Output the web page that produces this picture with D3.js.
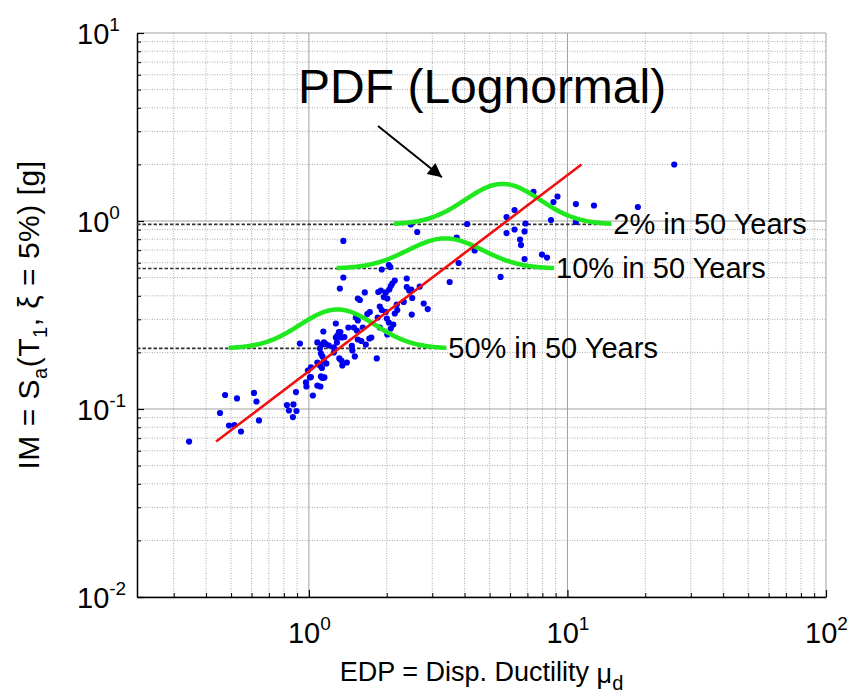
<!DOCTYPE html>
<html><head><meta charset="utf-8">
<script src="https://cdn.jsdelivr.net/npm/d3@7"></script>
<style>
body{margin:0;background:#fff}
text{font-family:"Liberation Sans",Arial,Helvetica,sans-serif;fill:#000}
</style>
</head><body>
<svg id="chart" width="851" height="698"></svg>
<script>
// ---------- data ----------
const pointsLow = [[0.344,0.0671],[0.453,0.0952],[0.474,0.1187],[0.491,0.0817],[0.515,0.0822],[0.527,0.1138],[0.546,0.0759],[0.613,0.1217],[0.627,0.1096],[0.641,0.0869],[0.822,0.105],[0.837,0.0982],[0.871,0.1057],[0.895,0.0976],[0.867,0.0906],[0.891,0.1231],[0.974,0.1384],[0.978,0.1317],[1.009,0.1472],[1.036,0.118],[1.078,0.1333],[1.108,0.1317],[1.123,0.1472],[1.148,0.1472],[0.991,0.1602]];
const pointsMid = [[0.923,0.223],[1.018,0.1663],[1.078,0.226],[1.103,0.21],[1.123,0.2203],[1.078,0.1767],[1.103,0.1704],[1.123,0.1652],[1.143,0.179],[1.168,0.1746],[1.113,0.1973],[1.128,0.1903],[1.137,0.2584],[1.143,0.226],[1.163,0.2217],[1.194,0.2177],[1.249,0.2125],[1.249,0.1998],[1.283,0.226],[1.271,0.2401],[1.288,0.246],[1.306,0.2568],[1.271,0.285],[1.323,0.2568],[1.323,0.2415],[1.341,0.2401],[1.311,0.1857],[1.335,0.1811],[1.347,0.1704],[1.402,0.1767],[1.371,0.2415],[1.421,0.2714],[1.359,0.783],[1.359,0.5005],[1.317,0.4375],[1.466,0.2164],[1.472,0.2048],[1.505,0.1903],[1.492,0.2714],[1.532,0.2616],[1.546,0.2343],[1.595,0.23],[1.66,0.2203],[1.713,0.2371],[1.743,0.2401],[1.519,0.3067],[1.546,0.2956],[1.616,0.2714],[1.682,0.32],[1.72,0.328],[1.546,0.387],[1.574,0.38],[1.645,0.417],[1.83,0.1857],[1.846,0.3067],[1.88,0.351],[1.913,0.336],[1.88,0.2714],[1.983,0.328],[2.001,0.303],[2.037,0.2885],[2.073,0.268],[2.01,0.249],[2.148,0.322],[2.197,0.336],[1.855,0.419],[1.897,0.427],[1.983,0.417],[2.046,0.432],[2.073,0.451],[1.948,0.394],[2.01,0.387],[1.913,0.552],[2.037,0.583],[2.064,0.569],[2.101,0.465],[2.148,0.4826],[2.187,0.3597],[2.327,0.371],[2.39,0.4945],[2.39,0.4457],[2.443,0.427],[2.488,0.432],[2.51,0.3894],[2.683,0.448],[2.78,0.364],[2.881,0.34],[1.018,0.148],[1.113,0.149],[1.133,0.1462],[2.499,0.318],[2.12,0.2814]];
const pointsHigh = [[2.477,0.958],[2.624,0.874],[3.503,0.4737],[3.728,0.817],[3.795,0.598],[4.092,0.964],[4.375,0.697],[5.512,0.504],[5.813,1.05],[6.243,1.144],[5.813,0.863],[6.243,0.901],[6.883,0.97],[6.823,0.88],[6.555,0.797],[6.614,0.745],[6.823,0.628],[7.97,0.663],[8.334,0.639],[7.39,1.427],[8.83,1.262],[9.15,1.35],[8.636,1.012],[10.78,1.231],[12.66,1.209],[10.78,0.988],[18.72,1.187],[25.88,1.998]];

// regression IM = a * EDP^b
const fitA = 0.159, fitB = 1.043;
const fitEDP = [0.4375, 11.33];

// hazard levels and lognormal PDFs
const hazardLabels = ["2% in 50 Years", "10% in 50 Years", "50% in 50 Years"];
const hazardIM = [0.96, 0.559, 0.21];
const pdfMedian = [5.61, 3.37, 1.29];
const pdfPeakDecades = [0.215, 0.16, 0.207];
const pdfBeta = 0.334;
const pdfSpanSigma = 2.9;

// annotation (data coords)
const pdfTitle = "PDF (Lognormal)";
const titlePos = [0.908, 4.24];
const arrowFrom = [1.85, 3.2];
const arrowTo = [3.27, 1.71];

const xMajor = [1, 10, 100];
const yMajor = [0.01, 0.1, 1, 10];
const xMinor = [0.3,0.4,0.5,0.6,0.7,0.8,0.9,2,3,4,5,6,7,8,9,20,30,40,50,60,70,80,90];
const yMinor = [0.02,0.03,0.04,0.05,0.06,0.07,0.08,0.09,0.2,0.3,0.4,0.5,0.6,0.7,0.8,0.9,2,3,4,5,6,7,8,9];

// ---------- layout ----------
const L = 137, R = 826, T = 33, B = 597;
const svg = d3.select("#chart");
const x = d3.scaleLog().domain([0.2163, 100]).range([L, R]);
const y = d3.scaleLog().domain([0.01, 10]).range([B, T]);

// grid
const grid = svg.append("g");
grid.selectAll(".vmin").data(xMinor).join("line")
  .attr("x1", d => x(d)).attr("x2", d => x(d)).attr("y1", T).attr("y2", B)
  .attr("stroke", "#ababab").attr("stroke-width", 1).attr("stroke-dasharray", "1,1.5");
grid.selectAll(".hmin").data(yMinor).join("line")
  .attr("y1", d => y(d)).attr("y2", d => y(d)).attr("x1", L).attr("x2", R)
  .attr("stroke", "#ababab").attr("stroke-width", 1).attr("stroke-dasharray", "1,1.5");
grid.selectAll(".vmaj").data(xMajor).join("line")
  .attr("x1", d => x(d)).attr("x2", d => x(d)).attr("y1", T).attr("y2", B)
  .attr("stroke", "#a0a0a0").attr("stroke-width", 1);
grid.selectAll(".hmaj").data(yMajor).join("line")
  .attr("y1", d => y(d)).attr("y2", d => y(d)).attr("x1", L).attr("x2", R)
  .attr("stroke", "#a0a0a0").attr("stroke-width", 1);

// axes
function supLabel(text, v) {
  const e = Math.round(Math.log10(v));
  text.text(null);
  text.append("tspan").text("10");
  text.append("tspan").attr("dy", -13).attr("font-size", 19).text(e);
}
const gx = svg.append("g").attr("transform", `translate(0,${B})`)
  .call(d3.axisBottom(x).tickValues(xMajor).tickSizeInner(-7).tickSizeOuter(0));
gx.select(".domain").attr("stroke", "#000").attr("stroke-width", 1.5);
gx.selectAll(".tick line").attr("stroke", "#000").attr("stroke-width", 1.2);
gx.selectAll(".tick text").attr("y", 46).attr("dy", null).attr("font-size", 29)
  .attr("text-anchor", "middle").each(function(d){ supLabel(d3.select(this), d); });
svg.append("g").attr("transform", `translate(0,${B})`)
  .call(d3.axisBottom(x).tickValues(xMinor).tickSizeInner(-4).tickSizeOuter(0).tickFormat(""))
  .call(g => { g.select(".domain").remove(); g.selectAll("line").attr("stroke", "#000"); });

const gy = svg.append("g").attr("transform", `translate(${L},0)`)
  .call(d3.axisLeft(y).tickValues(yMajor).tickSizeInner(-7).tickSizeOuter(0));
gy.select(".domain").attr("stroke", "#000").attr("stroke-width", 1.5);
gy.selectAll(".tick line").attr("stroke", "#000").attr("stroke-width", 1.2);
gy.selectAll(".tick text").attr("x", -60).attr("y", 10).attr("dy", null).attr("font-size", 29)
  .attr("text-anchor", "start").each(function(d){ supLabel(d3.select(this), d); });
svg.append("g").attr("transform", `translate(${L},0)`)
  .call(d3.axisLeft(y).tickValues(yMinor).tickSizeInner(-4).tickSizeOuter(0).tickFormat(""))
  .call(g => { g.select(".domain").remove(); g.selectAll("line").attr("stroke", "#000"); });
svg.selectAll(".tick text").attr("fill", "#000").attr("font-family", '"Liberation Sans",Arial,sans-serif');

// hazard dashed lines
const sig10 = pdfBeta / Math.LN10;
const curveEnd = pdfMedian.map(m => m * Math.pow(10, pdfSpanSigma * sig10));
svg.append("g").selectAll("line").data(hazardIM).join("line")
  .attr("x1", L).attr("x2", (d, i) => x(curveEnd[i]))
  .attr("y1", d => y(d)).attr("y2", d => y(d))
  .attr("stroke", "#333").attr("stroke-width", 1.6).attr("stroke-dasharray", "3.5,2");

// scatter
const allPts = pointsLow.concat(pointsMid, pointsHigh);
svg.append("g").selectAll("circle").data(allPts).join("circle")
  .attr("cx", d => x(d[0])).attr("cy", d => y(d[1])).attr("r", 3.1)
  .attr("fill", "#0000f0");

// PDF curves
const line = d3.line().x(d => x(d[0])).y(d => y(d[1])).curve(d3.curveLinear);
hazardIM.forEach((b, i) => {
  const pts = d3.range(0, 161).map(k => {
    const z = -pdfSpanSigma + 2 * pdfSpanSigma * k / 160;
    const lx = Math.log10(pdfMedian[i]) + z * sig10;
    const ly = Math.log10(b) + pdfPeakDecades[i] * Math.exp(-0.5 * z * z);
    return [Math.pow(10, lx), Math.pow(10, ly)];
  });
  svg.append("path").attr("d", line(pts)).attr("fill", "none")
    .attr("stroke", "#1fe81f").attr("stroke-width", 4.5).attr("stroke-linecap", "butt");
});

// regression line
svg.append("path").attr("d", line(fitEDP.map(e => [e, fitA * Math.pow(e, fitB)])))
  .attr("fill", "none").attr("stroke", "#f01010").attr("stroke-width", 2.6);

// hazard labels
svg.append("g").selectAll("text").data(hazardLabels).join("text")
  .attr("x", (d, i) => x(curveEnd[i]) + 2).attr("y", (d, i) => y(hazardIM[i]) + 10)
  .attr("font-size", 29).text(d => d);

// PDF title + arrow
svg.append("text").attr("x", x(titlePos[0])).attr("y", y(titlePos[1]))
  .attr("font-size", 48).text(pdfTitle);
svg.append("defs").append("marker").attr("id", "ah").attr("viewBox", "0 0 10 10")
  .attr("refX", 10).attr("refY", 5).attr("markerWidth", 16).attr("markerHeight", 14)
  .attr("markerUnits", "userSpaceOnUse").attr("orient", "auto")
  .append("path").attr("d", "M0,0 L10,5 L0,10 Z").attr("fill", "#000");
svg.append("line").attr("x1", x(arrowFrom[0])).attr("y1", y(arrowFrom[1]))
  .attr("x2", x(arrowTo[0])).attr("y2", y(arrowTo[1]))
  .attr("stroke", "#000").attr("stroke-width", 2).attr("marker-end", "url(#ah)");

// axis titles
const xt = svg.append("text").attr("x", (L + R) / 2).attr("y", 681)
  .attr("text-anchor", "middle").attr("font-size", 27);
xt.append("tspan").text("EDP = Disp. Ductility ");
xt.append("tspan").attr("dy", 2).text("\u03BC");
xt.append("tspan").attr("dy", 7).attr("font-size", 20).text("d");

const yt = svg.append("text").attr("transform", `translate(39,${(T + B) / 2}) rotate(-90)`)
  .attr("text-anchor", "middle").attr("font-size", 30).attr("letter-spacing", 0.5);
yt.append("tspan").text("IM = S");
yt.append("tspan").attr("dy", 8).attr("font-size", 20).text("a");
yt.append("tspan").attr("dy", -8).text("(T");
yt.append("tspan").attr("dy", 8).attr("font-size", 20).text("1");
yt.append("tspan").attr("dy", -8).text(", \u03BE = 5%) [g]");
</script>
</body></html>
